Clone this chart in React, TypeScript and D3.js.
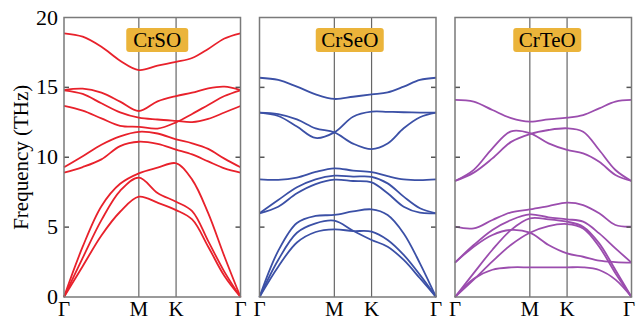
import React from 'react';
import * as d3 from 'd3';

// k-path sample positions (fraction of panel width): Γ ... M . K ... Γ
const kPos = [0, 0.106, 0.212, 0.318, 0.424, 0.53, 0.635, 0.726, 0.817, 0.909, 1];
const kLabels = ['Γ', 'M', 'K', 'Γ'];
const kLabelPos = [0, 0.424, 0.635, 1];
const yTicks = [0, 5, 10, 15, 20];

const materials = ['CrSO', 'CrSeO', 'CrTeO'];
const colors = ['#e8212b', '#3b50a6', '#9b4dae'];

// frequencies (THz) at each kPos, one row per branch
const crsoBands = [
  [18.87, 18.63, 17.91, 16.91, 16.24, 16.55, 16.82, 17.1, 17.75, 18.5, 18.87],
  [14.81, 14.91, 14.62, 13.98, 13.31, 14.0, 14.38, 14.62, 14.93, 15.05, 14.81],
  [14.79, 14.53, 13.86, 13.21, 12.83, 12.7, 12.6, 12.52, 12.75, 13.2, 13.67],
  [13.67, 13.33, 12.78, 12.25, 12.18, 12.05, 12.5, 13.1, 13.74, 14.38, 14.79],
  [9.28, 10.07, 10.9, 11.5, 11.82, 11.7, 11.28, 11.0, 10.6, 9.9, 9.28],
  [8.9, 9.3, 9.85, 10.8, 11.11, 10.95, 10.55, 10.2, 9.7, 9.2, 8.9],
  [0, 3.6, 6.5, 8.1, 8.85, 9.25, 9.57, 8.4, 6.0, 2.9, 0],
  [0, 2.8, 5.5, 7.6, 8.54, 7.45, 6.82, 6.15, 4.0, 1.8, 0],
  [0, 2.2, 4.4, 6.1, 7.18, 6.75, 6.22, 5.55, 3.6, 1.5, 0],
];

const crseoBands = [
  [15.69, 15.53, 15.05, 14.5, 14.17, 14.33, 14.5, 14.64, 15.05, 15.53, 15.69],
  [13.19, 12.95, 12.2, 11.38, 11.78, 12.9, 13.26, 13.25, 13.22, 13.2, 13.19],
  [13.19, 13.09, 12.71, 12.07, 11.78, 10.98, 10.58, 10.98, 12.07, 12.86, 13.19],
  [8.42, 8.38, 8.55, 8.95, 9.21, 9.05, 8.94, 8.65, 8.42, 8.37, 8.42],
  [5.99, 6.94, 7.85, 8.42, 8.68, 8.62, 8.6, 8.13, 7.18, 6.35, 5.99],
  [5.99, 6.46, 7.42, 8.08, 8.4, 8.3, 8.2, 7.42, 6.46, 6.03, 5.99],
  [0, 3.3, 5.3, 5.8, 5.87, 6.12, 6.27, 5.87, 4.55, 2.41, 0],
  [0, 2.65, 4.6, 5.27, 5.46, 4.74, 4.08, 3.6, 2.65, 1.34, 0],
  [0, 2.17, 3.9, 4.65, 4.84, 4.72, 4.68, 4.08, 3.01, 1.58, 0],
];

const crteoBands = [
  [14.1, 13.98, 13.38, 12.8, 12.55, 12.71, 12.83, 13.02, 13.5, 13.98, 14.1],
  [8.3, 9.1, 10.64, 11.85, 11.72, 10.99, 10.52, 10.28, 9.68, 8.73, 8.3],
  [8.3, 8.9, 9.92, 11.1, 11.66, 11.95, 12.07, 11.83, 10.52, 9.09, 8.3],
  [5.03, 4.91, 5.51, 6.06, 6.27, 6.51, 6.75, 6.58, 5.99, 5.15, 5.03],
  [2.46, 3.72, 4.8, 5.51, 5.91, 5.7, 5.56, 5.39, 4.55, 3.48, 2.46],
  [2.46, 3.6, 4.44, 4.8, 4.6, 3.72, 3.12, 2.88, 2.6, 2.5, 2.46],
  [0, 1.71, 3.38, 4.8, 5.62, 5.56, 5.39, 5.03, 3.84, 1.93, 0],
  [0, 1.24, 2.55, 3.74, 4.6, 5.08, 5.22, 4.91, 3.6, 1.7, 0],
  [0, 1.3, 1.95, 2.12, 2.12, 2.12, 2.12, 2.12, 1.93, 1.24, 0],
];

const allBands = [crsoBands, crseoBands, crteoBands];

const W = 636;
const H = 321;
const panelLeft = [64, 259.5, 455];
const panelW = 176.5;
const top = 17.5;
const bottom = 297;
const titleOffset = [5, 2, 4];
const titleW = [62, 68, 68];
const font = '"Liberation Serif", "DejaVu Serif", serif';

const App = () => {
  const y = d3.scaleLinear().domain([0, 20]).range([bottom, top]);
  const txt = { fontFamily: font };

  return (
    <svg width={W} height={H} style={{ position: 'absolute', left: 0, top: 0 }}>
      <rect width={W} height={H} fill="#fff" />
      {materials.map((name, p) => {
        const x = d3.scaleLinear().domain([0, 1]).range([panelLeft[p], panelLeft[p] + panelW]);
        const line = d3
          .line<number>()
          .x((d, i) => x(kPos[i]))
          .y((d) => y(d))
          .curve(d3.curveCatmullRom.alpha(0.5));
        const cx = x(0.5) + titleOffset[p];
        return (
          <g key={name}>
            {kLabelPos.slice(1, 3).map((k) => (
              <line key={k} x1={x(k)} x2={x(k)} y1={top} y2={bottom} stroke="#666" strokeWidth={1.2} />
            ))}
            {allBands[p].map((b, i) => (
              <path key={i} d={line(b) || ''} fill="none" stroke={colors[p]} strokeWidth={1.8} />
            ))}
            {yTicks.slice(1, 4).map((t) => (
              <g key={t} stroke="#555" strokeWidth={1.5}>
                <line x1={x(0)} x2={x(0) + 5} y1={y(t)} y2={y(t)} />
                <line x1={x(1) - 5} x2={x(1)} y1={y(t)} y2={y(t)} />
              </g>
            ))}
            <rect x={x(0)} y={top} width={panelW} height={bottom - top} fill="none" stroke="#7a7a7a" strokeWidth={1.5} />
            <rect x={cx - titleW[p] / 2} y={28} width={titleW[p]} height={24} rx={3} fill="#ebb43a" />
            <text x={cx} y={46.5} textAnchor="middle" fontSize={21} fill="#000" style={txt}>
              {name}
            </text>
            {kLabels.map((l, i) => (
              <text key={i} x={Math.min(x(kLabelPos[i]), W - 7)} y={316} textAnchor="middle" fontSize={21} fill="#000" style={txt}>
                {l}
              </text>
            ))}
          </g>
        );
      })}
      {yTicks.map((t) => (
        <text key={t} x={58} y={y(t) + 7} textAnchor="end" fontSize={22} fill="#000" style={txt}>
          {t}
        </text>
      ))}
      <text transform={`translate(28,${(top + bottom) / 2}) rotate(-90)`} textAnchor="middle" fontSize={21} fill="#000" style={txt}>
        Frequency (THz)
      </text>
    </svg>
  );
};

export default App;
